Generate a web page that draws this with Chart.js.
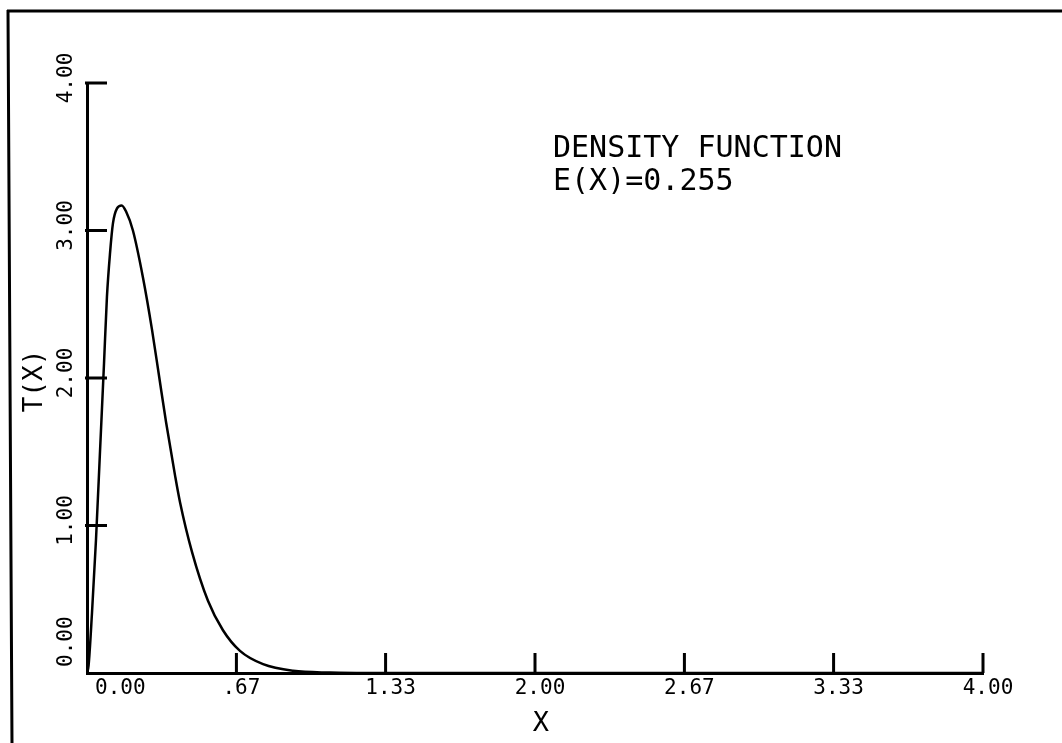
<!DOCTYPE html>
<html>
<head>
<meta charset="utf-8">
<script src="https://cdn.jsdelivr.net/npm/chart.js@4/dist/chart.umd.min.js"></script>
<style>
  html, body { margin: 0; padding: 0; background: #ffffff; }
  #wrap { width: 1062px; height: 743px; }
</style>
</head>
<body>
<div id="wrap"><canvas id="c" width="1062" height="743"></canvas></div>
<script>
// ---- data ----
const xValues = [0, 0.007, 0.022, 0.040, 0.058, 0.076, 0.089, 0.103, 0.116, 0.134, 0.155, 0.174, 0.205, 0.25, 0.29, 0.321, 0.353, 0.393, 0.415, 0.469, 0.54, 0.607, 0.683, 0.786, 0.92, 1.085, 1.3, 2.0, 3.0, 4.0];
const tValues = [0, 0.05, 0.4, 0.9, 1.5, 2.1, 2.55, 2.85, 3.05, 3.15, 3.17, 3.13, 3.0, 2.68, 2.33, 2.02, 1.70, 1.34, 1.16, 0.82, 0.49, 0.29, 0.15, 0.06, 0.015, 0.003, 0, 0, 0, 0];
const xTickValues = [0, 0.667, 1.333, 2, 2.667, 3.333, 4];
const xTickLabels = ['0.00', '.67', '1.33', '2.00', '2.67', '3.33', '4.00'];
const yTickValues = [0, 1, 2, 3, 4];
const yTickLabels = ['0.00', '1.00', '2.00', '3.00', '4.00'];
const xTitle = 'X';
const yTitle = 'T(X)';
const noteLines = ['DENSITY FUNCTION', 'E(X)=0.255'];

const points = xValues.map((x, i) => ({ x: x, y: tValues[i] }));

const MONO = '"DejaVu Sans Mono", "Liberation Mono", monospace';

const decorPlugin = {
  id: 'decor',
  beforeDraw(chart) {
    const ctx = chart.ctx;
    ctx.save();
    // outer frame (top and left edges)
    ctx.strokeStyle = '#000';
    ctx.lineWidth = 3;
    ctx.beginPath();
    ctx.moveTo(7, 11);
    ctx.lineTo(1062, 11);
    ctx.moveTo(8, 10);
    ctx.lineTo(12, 743);
    ctx.stroke();
    ctx.restore();
  },
  afterDraw(chart) {
    const ctx = chart.ctx;
    const xs = chart.scales.x, ys = chart.scales.y;
    const x0 = xs.getPixelForValue(0);
    const y0 = ys.getPixelForValue(0);
    ctx.save();
    ctx.strokeStyle = '#000';
    ctx.fillStyle = '#000';
    ctx.lineWidth = 3;
    // tick marks, inside the plot
    ctx.beginPath();
    xTickValues.forEach(v => {
      if (v === 0) return;
      const px = xs.getPixelForValue(v);
      ctx.moveTo(px, y0);
      ctx.lineTo(px, y0 - 20);
    });
    yTickValues.forEach(v => {
      if (v === 0) return;
      const py = ys.getPixelForValue(v);
      ctx.moveTo(x0 - 2, py);
      ctx.lineTo(x0 + 20, py);
    });
    ctx.stroke();

    // x tick labels
    ctx.font = '21px ' + MONO;
    ctx.textBaseline = 'middle';
    xTickValues.forEach((v, i) => {
      const px = xs.getPixelForValue(v);
      if (i === 0) {
        ctx.textAlign = 'left';
        ctx.fillText(xTickLabels[i], px + 8, y0 + 16);
      } else {
        ctx.textAlign = 'center';
        ctx.fillText(xTickLabels[i], px + 5, y0 + 16);
      }
    });
    // y tick labels, rotated
    yTickValues.forEach((v, i) => {
      const py = ys.getPixelForValue(v);
      ctx.save();
      ctx.translate(x0 - 20, i === 0 ? py - 6 : py - 5);
      ctx.rotate(-Math.PI / 2);
      ctx.textAlign = i === 0 ? 'left' : 'center';
      ctx.textBaseline = 'middle';
      ctx.fillText(yTickLabels[i], 0, 0);
      ctx.restore();
    });

    // axis titles
    ctx.font = '27px ' + MONO;
    ctx.textAlign = 'center';
    ctx.textBaseline = 'middle';
    ctx.fillText(xTitle, (xs.left + xs.right) / 2 + 6, y0 + 51);
    ctx.save();
    ctx.translate(35, (ys.top + ys.bottom) / 2 + 3);
    ctx.rotate(-Math.PI / 2);
    ctx.font = '26px ' + MONO;
    ctx.fillText(yTitle, 0, 0);
    ctx.restore();

    // annotation
    ctx.font = '30px ' + MONO;
    ctx.textAlign = 'left';
    ctx.textBaseline = 'middle';
    ctx.fillText(noteLines[0], 553, 149);
    ctx.fillText(noteLines[1], 553, 182);
    ctx.restore();
  }
};

new Chart(document.getElementById('c'), {
  type: 'line',
  data: {
    datasets: [{
      data: points,
      borderColor: '#000',
      borderWidth: 2.5,
      pointRadius: 0,
      cubicInterpolationMode: 'monotone',
      fill: false
    }]
  },
  options: {
    responsive: false,
    animation: false,
    devicePixelRatio: 1,
    layout: { padding: { left: 87, top: 83, right: 79, bottom: 70 } },
    plugins: { legend: { display: false }, tooltip: { enabled: false }, title: { display: false } },
    scales: {
      x: {
        type: 'linear', min: 0, max: 4,
        grid: { display: false, drawTicks: false },
        ticks: { display: false },
        border: { display: true, color: '#000', width: 3 }
      },
      y: {
        type: 'linear', min: 0, max: 4,
        grid: { display: false, drawTicks: false },
        ticks: { display: false },
        border: { display: true, color: '#000', width: 3 }
      }
    }
  },
  plugins: [decorPlugin]
});
</script>
</body>
</html>
